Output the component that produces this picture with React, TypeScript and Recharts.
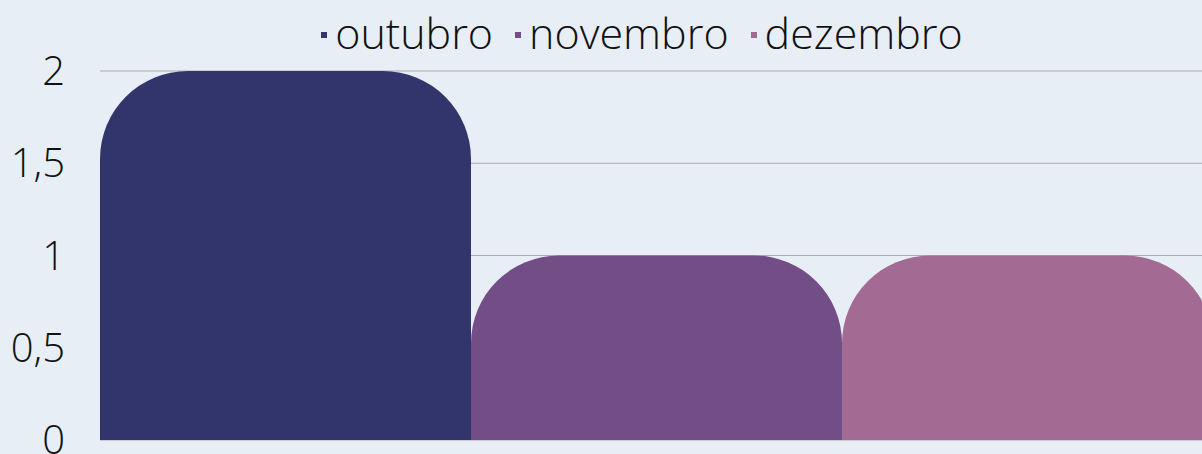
import { BarChart, Bar, XAxis, YAxis, CartesianGrid, Legend } from "recharts";

const categories = ["total"];
const seriesNames = ["outubro", "novembro", "dezembro"];
const outubro = [2];
const novembro = [1];
const dezembro = [1];
const yTicks = [0, 0.5, 1, 1.5, 2];

const colors = ["#31356B", "#724D86", "#A36B94"];

const data = categories.map((name, i) => ({
  name,
  outubro: outubro[i],
  novembro: novembro[i],
  dezembro: dezembro[i],
}));

const font = "'Open Sans', 'Noto Sans', sans-serif";

function LegendContent() {
  return (
    <div
      style={{
        display: "flex",
        justifyContent: "center",
        alignItems: "center",
        fontFamily: font,
        fontWeight: 300,
        fontSize: 43,
        color: "#111",
        height: 60,
      }}
    >
      {seriesNames.map((s, i) => (
        <div key={s} style={{ display: "flex", alignItems: "center", marginLeft: i ? 22 : 0 }}>
          <span
            style={{
              display: "inline-block",
              width: 6,
              height: 6,
              background: colors[i],
              marginRight: 8,
              marginTop: 6,
            }}
          />
          <span>{s}</span>
        </div>
      ))}
    </div>
  );
}

export default function App() {
  return (
    <div
      style={{
        position: "fixed",
        left: 0,
        top: 0,
        width: 1202,
        height: 454,
        overflow: "hidden",
        background: "#E7EEF5",
      }}
    >
      <BarChart
        width={1214}
        height={454}
        data={data}
        margin={{ top: 11, right: 0, bottom: 14, left: 0 }}
        barCategoryGap={0}
        barGap={0}
      >
        <CartesianGrid vertical={false} stroke="#ABADB0" strokeWidth={1} />
        <XAxis dataKey="name" hide />
        <YAxis
          width={100}
          domain={[0, 2]}
          ticks={yTicks}
          interval={0}
          axisLine={false}
          tickLine={false}
          tickSize={0}
          tickMargin={35}
          tickFormatter={(v: number) => String(v).replace(".", ",")}
          tick={{ fontFamily: font, fontWeight: 300, fontSize: 40, fill: "#111" }}
        />
        <Legend
          verticalAlign="top"
          content={LegendContent}
          wrapperStyle={{ top: 2, left: 0, width: 1284 }}
        />
        {seriesNames.map((s, i) => (
          <Bar
            key={s}
            dataKey={s}
            fill={colors[i]}
            radius={[88, 88, 0, 0]}
            isAnimationActive={false}
          />
        ))}
      </BarChart>
    </div>
  );
}
